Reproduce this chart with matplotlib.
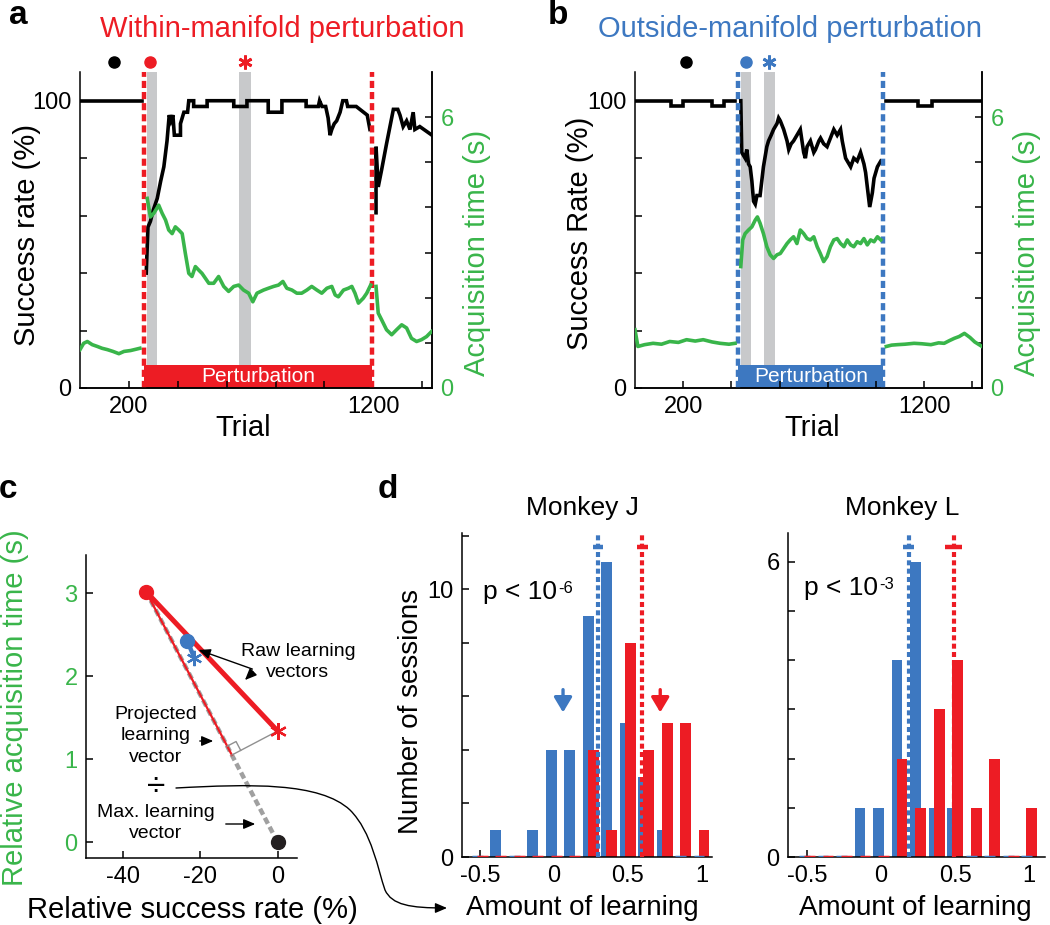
import numpy as np
import matplotlib
matplotlib.use('Agg')
import matplotlib.pyplot as plt
from matplotlib.patches import Rectangle, FancyArrowPatch
from matplotlib.path import Path

plt.rcParams['font.family'] = ['Liberation Sans', 'DejaVu Sans']
plt.rcParams['axes.unicode_minus'] = False
plt.rcParams['axes.linewidth'] = 1.1

W, H = 1050, 925
RED = '#ED1C24'
BLUE = '#3D78C1'
GREEN = '#39B54A'
GRAY = '#C8C9CB'

# ---------------- panel a: within-manifold session ----------------
a_pert = [260, 1196]
a_bands = [[273, 314], [649, 698]]
a_marks = [139, 286, 673]          # baseline dot, early dot, late asterisk

a_sr_pre_t = [0, 255]
a_sr_pre = [100, 100]
a_sr_t = [271, 278, 288, 300, 316, 330, 343, 356, 365, 372, 380, 386, 411, 411, 425, 440, 445,
          465, 465, 520, 520, 629, 629, 683, 683, 770, 770, 826, 826, 925, 925, 975, 980, 990,
          1005, 1015, 1023, 1030, 1040, 1050, 1064, 1075, 1090, 1095, 1112, 1130, 1160, 1175, 1186]
a_sr = [40, 56, 58, 62, 66, 72, 77, 86, 95, 93, 95, 88, 88, 92, 96, 96, 100,
        100, 98, 98, 100, 100, 98, 98, 100, 100, 96, 96, 100, 100, 98, 98, 100, 98,
        98, 94, 88, 90, 92, 93, 96, 100, 100, 98, 98, 98, 96, 95, 90]
a_sr_post_t = [1211, 1211, 1220, 1234, 1254, 1268, 1282, 1300, 1309, 1322, 1336, 1350, 1363, 1370, 1390, 1440]
a_sr_post = [61, 84, 70, 76, 85, 91, 97, 97, 95, 91, 93, 90, 96, 90, 91, 88]

a_at_pre_t = [0, 15, 30, 50, 71, 90, 112, 135, 159, 180, 207, 230, 245]
a_at_pre = [0.85, 0.99, 1.03, 0.96, 0.92, 0.88, 0.85, 0.81, 0.76, 0.81, 0.83, 0.86, 0.88]
a_at_t = [275, 288, 302, 322, 336, 350, 363, 377, 390, 404,
          418, 431, 445, 458, 472, 486, 499, 513, 527,
          547, 567, 588, 608, 629, 649, 669, 690, 707, 724,
          751, 771, 792, 812, 830, 846, 867, 887, 907, 928,
          948, 969, 989, 1010, 1030, 1044, 1057, 1078, 1098, 1112,
          1125, 1139, 1159, 1173, 1189]
a_at = [4.20, 3.79, 3.87, 4.05, 3.87, 3.72, 3.50, 3.42, 3.57, 3.50,
        3.42, 2.98, 2.54, 2.47, 2.69, 2.61, 2.54, 2.43, 2.32,
        2.32, 2.47, 2.25, 2.14, 2.25, 2.28, 2.17, 2.10, 1.91, 2.10,
        2.17, 2.21, 2.25, 2.28, 2.36, 2.21, 2.17, 2.10, 2.10, 2.17,
        2.25, 2.17, 2.10, 2.21, 2.25, 2.06, 2.02, 2.17, 2.21, 2.25,
        2.10, 1.88, 1.99, 2.10, 2.28]
a_at_post_t = [1211, 1220, 1234, 1254, 1275, 1295, 1316, 1336, 1356, 1377, 1397, 1418, 1438]
a_at_post = [2.25, 1.66, 1.51, 1.29, 1.18, 1.29, 1.40, 1.33, 1.10, 1.03, 1.07, 1.14, 1.25]

# ---------------- panel b: outside-manifold session ----------------
b_pert = [429, 1031]
b_bands = [[439, 483], [536, 583]]
b_marks = [210, 461, 558]

b_sr_pre_t = [0, 151, 151, 200, 200, 318, 318, 369, 369, 415]
b_sr_pre = [100, 100, 98, 98, 100, 100, 98, 98, 100, 100]
b_sr_t = [439, 443, 457, 464, 471, 478, 485, 492, 499, 506, 519, 526, 533, 547, 554, 565, 575,
          589, 596, 603, 617, 631, 638, 648, 658, 672, 686, 693, 700, 707, 714, 728, 742, 749,
          763, 770, 783, 797, 811, 825, 839, 853, 860, 874, 888, 895, 908, 922, 936, 950, 957,
          964, 974, 985, 992, 1006, 1020]
b_sr = [100, 82, 80, 83, 78, 77, 72, 65, 64, 67, 67, 72, 77, 84, 86, 88, 90,
        92, 94, 93, 90, 86, 83, 85, 86, 88, 90, 86, 82, 80, 84, 86, 82, 83,
        86, 87, 85, 84, 87, 90, 88, 90, 86, 80, 78, 77, 80, 79, 82, 78, 75,
        70, 63, 68, 73, 77, 79]
b_sr_post_t = [1043, 1176, 1176, 1232, 1232, 1440]
b_sr_post = [100, 100, 98, 98, 100, 100]

b_at_pre_t = [0, 12, 40, 75, 110, 144, 180, 214, 250, 283, 320, 353, 390, 415]
b_at_pre = [1.29, 0.92, 0.96, 0.99, 0.97, 1.03, 1.01, 1.07, 1.04, 1.07, 1.02, 0.99, 0.97, 0.99]
b_at_t = [439, 447, 457, 471, 485, 499, 508, 519, 533, 547, 561, 575, 589, 603, 617, 631,
          644, 658, 672, 686, 700, 714, 728, 742, 756, 769, 783, 797, 811, 825, 839, 853,
          867, 881, 895, 908, 922, 936, 950, 964, 978, 992, 1006, 1020]
b_at = [2.69, 3.28, 3.42, 3.50, 3.57, 3.72, 3.79, 3.65, 3.42, 3.13, 2.95, 2.87, 2.95, 2.98, 3.09, 3.20,
        3.28, 3.35, 3.20, 3.50, 3.42, 3.31, 3.28, 3.35, 3.13, 2.98, 2.80, 2.91, 3.13, 3.28, 3.31, 3.20,
        3.13, 3.28, 3.17, 3.13, 3.24, 3.20, 3.31, 3.17, 3.28, 3.24, 3.35, 3.28]
b_at_post_t = [1043, 1065, 1089, 1120, 1158, 1190, 1228, 1260, 1283, 1305, 1325, 1345, 1367, 1390, 1410, 1440]
b_at_post = [0.92, 0.95, 0.96, 0.97, 0.99, 0.98, 0.96, 1.00, 0.99, 1.05, 1.10, 1.14, 1.21, 1.12, 1.02, 0.92]

# ---------------- panel c: learning vectors ----------------
within_start = [-34.0, 3.02]
within_end = [0.0, 1.34]
outside_start = [-23.4, 2.43]
outside_end = [-21.5, 2.22]
baseline_pt = [0.0, 0.0]

# ---------------- panel d: amount of learning histograms ----------------
bin_centers = [-0.5, -0.375, -0.25, -0.125, 0, 0.125, 0.25, 0.375, 0.5, 0.625, 0.75, 0.875, 1.0]
J_outside = [0, 1, 0, 1, 4, 4, 9, 11, 5, 3, 1, 0, 0]
J_within = [0, 0, 0, 0, 0, 0, 4, 1, 8, 4, 5, 5, 1]
L_outside = [0, 0, 0, 1, 1, 4, 6, 1, 1, 0, 0, 0, 0]
L_within = [0, 0, 0, 0, 0, 2, 1, 3, 4, 1, 2, 0, 1]
J_means = [0.30, 0.60]
L_means = [0.187, 0.489]
J_sem = [0.034, 0.038]
L_sem = [0.037, 0.06]
J_example = [0.063, 0.72]          # arrows: sessions shown in a and b
p_exponents = ['-6', '-3']

fig = plt.figure(figsize=(W / 100, H / 100), dpi=100, facecolor='white')


def axes_px(l, t, r, b):
    return fig.add_axes([l / W, 1 - b / H, (r - l) / W, (b - t) / H])


def text_px(x, y, s, **kw):
    kw.setdefault('ha', 'center')
    kw.setdefault('va', 'center')
    return fig.text(x / W, 1 - y / H, s, **kw)


def arrow_px(x0, y0, x1, y1):
    fig.add_artist(FancyArrowPatch((x0 / W, 1 - y0 / H), (x1 / W, 1 - y1 / H),
                                   transform=fig.transFigure, mutation_scale=1,
                                   arrowstyle='-|>,head_length=7,head_width=3',
                                   lw=1, color='k'))


def session_panel(box, color, pert, bands, marks, sr, at):
    ax = axes_px(*box)
    ax.set_xlim(0, 1440)
    ax.set_ylim(0, 110)
    for lo, hi in bands:
        ax.axvspan(lo, hi, color=GRAY, lw=0, zorder=0)
    ax.add_patch(Rectangle((pert[0], 0), pert[1] - pert[0], 8, color=color, lw=0, zorder=1))
    ax.text(np.mean(pert), 4, 'Perturbation', color='white', fontsize=15,
            ha='center', va='center', zorder=2)
    for t, v in sr:
        ax.plot(t, v, color='k', lw=2.6, zorder=4, solid_joinstyle='miter')
    for x in pert:
        ax.axvline(x, color=color, lw=3.2, ls=(0, (1.6, 0.9)), zorder=5)
    ax.plot(marks[0], 113.5, 'o', color='k', ms=8, clip_on=False)
    ax.plot(marks[1], 113.5, 'o', color=color, ms=8, clip_on=False)
    ax.plot(marks[2], 113.5, marker=(6, 2, 0), color=color, ms=10, mew=2, clip_on=False)
    ax.set_xticks([200, 400, 600, 800, 1000, 1200, 1400])
    ax.set_xticklabels(['200', '', '', '', '', '1200', ''])
    ax.set_yticks([0, 20, 40, 60, 80, 100])
    ax.set_yticklabels(['0', '', '', '', '', '100'])
    ax.tick_params(direction='in', length=5, width=1.1, labelsize=17, pad=6)
    ax.spines['top'].set_visible(False)

    ax2 = ax.twinx()
    ax2.set_ylim(0, 7)
    for t, v in at:
        ax2.plot(t, v, color=GREEN, lw=2.6, zorder=3)
    ax2.set_yticks(range(7))
    ax2.set_yticklabels(['0', '', '', '', '', '', '6'])
    ax2.tick_params(direction='in', length=5, width=1.1, labelsize=17, pad=6, labelcolor=GREEN)
    ax2.spines['top'].set_visible(False)
    ax2.spines['left'].set_visible(False)
    return ax


# panel a
session_panel((80, 72, 432, 388), RED, a_pert, a_bands, a_marks,
              [(a_sr_pre_t, a_sr_pre), (a_sr_t, a_sr), (a_sr_post_t, a_sr_post)],
              [(a_at_pre_t, a_at_pre), (a_at_t, a_at), (a_at_post_t, a_at_post)])
text_px(18, 15, 'a', fontsize=24, fontweight='bold')
text_px(282, 29, 'Within-manifold perturbation', color=RED, fontsize=21)
text_px(27, 235, 'Success rate (%)', fontsize=21, rotation=90)
text_px(477, 253, 'Acquisition time (s)', fontsize=21, rotation=90, color=GREEN)
text_px(243, 428, 'Trial', fontsize=21)

# panel b
session_panel((635, 72, 982, 388), BLUE, b_pert, b_bands, b_marks,
              [(b_sr_pre_t, b_sr_pre), (b_sr_t, b_sr), (b_sr_post_t, b_sr_post)],
              [(b_at_pre_t, b_at_pre), (b_at_t, b_at), (b_at_post_t, b_at_post)])
text_px(558, 15, 'b', fontsize=24, fontweight='bold')
text_px(790, 29, 'Outside-manifold perturbation', color=BLUE, fontsize=21)
text_px(580, 233, 'Success Rate (%)', fontsize=21, rotation=90)
text_px(1027, 253, 'Acquisition time (s)', fontsize=21, rotation=90, color=GREEN)
text_px(812, 428, 'Trial', fontsize=21)

# panel c
axc = axes_px(86, 555, 297, 858)
axc.set_xlim(-49.5, 5)
axc.set_ylim(-0.19, 3.46)
axc.spines['top'].set_visible(False)
axc.spines['right'].set_visible(False)
axc.set_xticks([-40, -20, 0])
axc.set_yticks([0, 1, 2, 3])
axc.tick_params(direction='in', length=5, width=1.1, labelsize=17, pad=6)
axc.tick_params(axis='y', labelcolor=GREEN)

td = axc.transData
p0 = td.transform(within_start)
po = td.transform(baseline_pt)
ps = td.transform(within_end)
d = po - p0
pp = p0 + np.dot(ps - p0, d) / np.dot(d, d) * d
proj = td.inverted().transform(pp)
u = (p0 - pp) / np.linalg.norm(p0 - pp) * 10
v = (ps - pp) / np.linalg.norm(ps - pp) * 10
sq = td.inverted().transform(np.array([pp + u, pp + u + v, pp + v]))

axc.plot([within_start[0], baseline_pt[0]], [within_start[1], baseline_pt[1]],
         color='#A0A0A0', lw=3.2, ls=(0, (1.5, 0.8)), zorder=2)
axc.plot([within_start[0], proj[0]], [within_start[1], proj[1]], color=RED, lw=1.6, zorder=3)
axc.plot([within_end[0], proj[0]], [within_end[1], proj[1]], color='#909090', lw=1, zorder=3)
axc.plot(sq[:, 0], sq[:, 1], color='#909090', lw=1, zorder=3)
axc.plot([within_start[0], within_end[0]], [within_start[1], within_end[1]], color=RED, lw=3.6, zorder=4)
axc.plot(*within_start, 'o', color=RED, ms=10, zorder=5)
axc.plot(*within_end, marker=(6, 2, 0), color=RED, ms=12, mew=1.6, zorder=5)
axc.plot([outside_start[0], outside_end[0]], [outside_start[1], outside_end[1]], color=BLUE, lw=3.2, zorder=6)
axc.plot(*outside_start, 'o', color=BLUE, ms=10, zorder=6)
axc.plot(*outside_end, marker=(6, 2, 0), color=BLUE, ms=11, mew=1.6, zorder=6)
axc.plot(*baseline_pt, 'o', color='#231F20', ms=10, zorder=5, clip_on=False)

text_px(8, 489, 'c', fontsize=24, fontweight='bold')
text_px(15, 708, 'Relative acquisition time (s)', fontsize=21, rotation=90, color=GREEN)
text_px(192, 910, 'Relative success rate (%)', fontsize=21)
text_px(298, 662, 'Raw learning\nvectors', fontsize=14, linespacing=1.35)
text_px(156, 736, 'Projected\nlearning\nvector', fontsize=14, linespacing=1.35)
text_px(156, 788, '\u00f7', fontsize=24)
text_px(156, 823, 'Max. learning\nvector', fontsize=14, linespacing=1.35)
arrow_px(255, 670, 196, 649)
arrow_px(255, 670, 243, 682)
arrow_px(197, 741, 216, 741)
arrow_px(223, 824, 258, 824)

curve = Path(np.array([[176, 788], [250, 784], [320, 782], [350, 810],
                       [372, 832], [378, 870], [385, 890],
                       [392, 905], [410, 908], [447, 908]]) / [W, H] * [1, -1] + [0, 1],
             [Path.MOVETO] + [Path.CURVE4] * 9)
fig.add_artist(FancyArrowPatch(path=curve, transform=fig.transFigure, mutation_scale=1,
                               arrowstyle='-|>,head_length=7,head_width=3', lw=1, color='k'))


# panel d
def hist_panel(box, outside, within, means, sems, ymax, ystep, ylabels):
    ax = axes_px(*box)
    c = np.array(bin_centers)
    off, wd = 0.017, 0.072
    ax.bar(c - off, outside, width=wd, color=BLUE, zorder=2)
    ax.bar(c + off, within, width=wd, color=RED, zorder=2)
    for arr, col, sgn in [(outside, BLUE, -1), (within, RED, 1)]:
        for ci, n in zip(c, arr):
            if n == 0:
                ax.plot([ci + sgn * off - wd / 2, ci + sgn * off + wd / 2], [0, 0],
                        color=col, lw=2.5, zorder=3, solid_capstyle='butt')
    top = ymax * 0.957
    for m, s, col in zip(means, sems, [BLUE, RED]):
        ax.plot([m, m], [0, ymax], color=col, lw=3, ls=(0, (1.2, 0.8)), zorder=4)
        ax.plot([m - s, m + s], [top, top], color=col, lw=3.2, zorder=4, solid_capstyle='butt')
    ax.set_xlim(-0.62, 1.07)
    ax.set_ylim(0, ymax)
    ax.set_xticks([-0.5, 0, 0.5, 1])
    ax.set_xticklabels(['-0.5', '0', '0.5', '1'])
    yt = np.arange(0, ymax, ystep)
    ax.set_yticks(yt)
    ax.set_yticklabels([str(int(y)) if int(y) in ylabels else '' for y in yt])
    ax.tick_params(direction='in', length=5, width=1.1, labelsize=17, pad=6)
    ax.spines['top'].set_visible(False)
    ax.spines['right'].set_visible(False)
    return ax


axJ = hist_panel((462, 533, 712, 857), J_outside, J_within, J_means, J_sem, 12.1, 2, [0, 10])
for x, col in zip(J_example, [BLUE, RED]):
    axJ.annotate('', xy=(x, 5.4), xytext=(x, 6.25),
                 arrowprops=dict(arrowstyle='-|>,head_length=0.5,head_width=0.3',
                                 color=col, lw=2.4, mutation_scale=18, shrinkA=0, shrinkB=0))
pJ = axJ.text(-0.475, 9.9, 'p < 10', fontsize=19, ha='left', va='center')

axL = hist_panel((788, 533, 1045, 857), L_outside, L_within, L_means, L_sem, 6.58, 1, [0, 6])
axL.set_xlim(-0.628, 1.106)
pL = axL.text(-0.52, 5.46, 'p < 10', fontsize=19, ha='left', va='center')

# superscript exponents placed right after the main p-value text
renderer = fig.canvas.get_renderer()
for t, e in zip([pJ, pL], p_exponents):
    bb = t.get_window_extent(renderer)
    fig.text((bb.x1 + 1) / W, (bb.y1 - 1) / H, e, fontsize=12, ha='left', va='top')

text_px(388, 489, 'd', fontsize=24, fontweight='bold')
text_px(411, 711, 'Number of sessions', fontsize=20, rotation=90)
text_px(582, 508, 'Monkey J', fontsize=19)
text_px(582, 908, 'Amount of learning', fontsize=20)
text_px(902, 508, 'Monkey L', fontsize=19)
text_px(915, 908, 'Amount of learning', fontsize=20)

fig.savefig('out.png', dpi=100, facecolor='white')
